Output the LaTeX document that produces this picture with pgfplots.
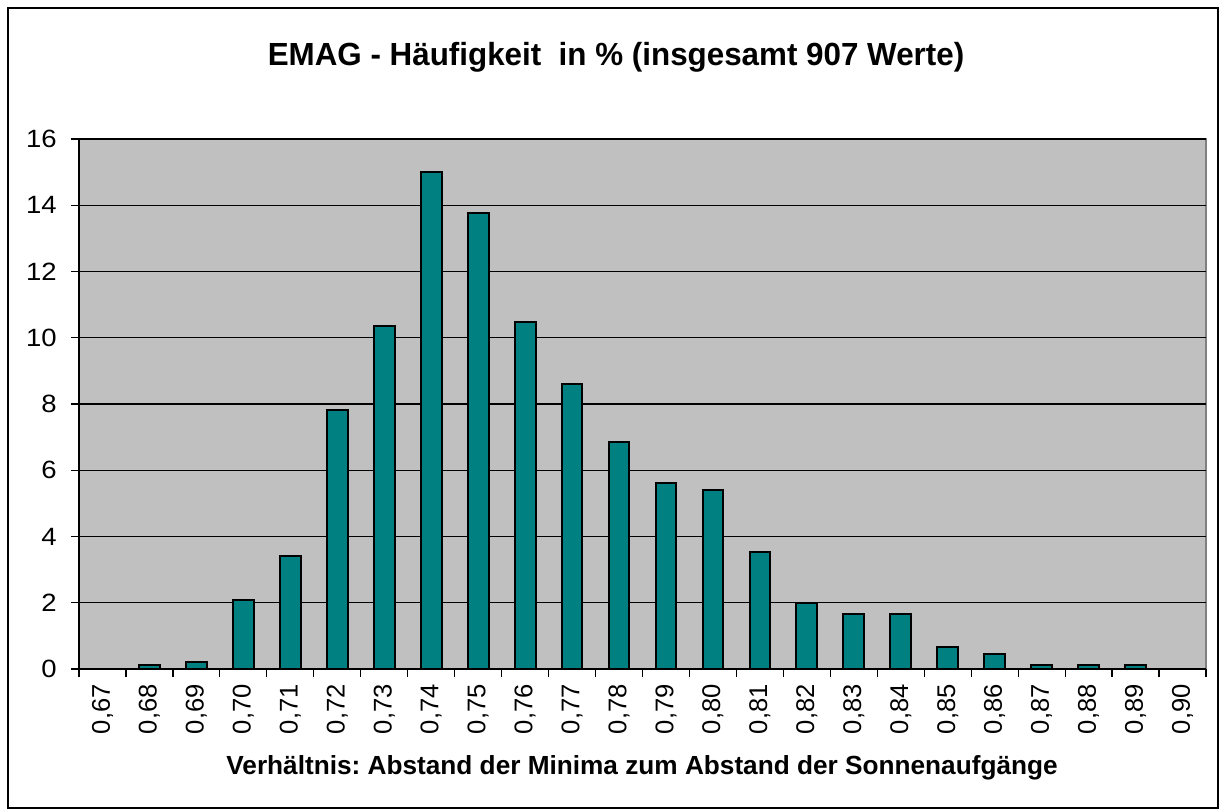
\documentclass[border=0pt]{standalone}
\usepackage{fontspec}
\setmainfont{Liberation Sans}
\newfontfamily\titlefont[FakeStretch=0.98]{Liberation Sans}
\newfontfamily\ytickfont[FakeStretch=1.1]{Liberation Sans}
\usepackage{pgfplots}
\pgfplotsset{compat=1.18}
\definecolor{plotbg}{HTML}{C0C0C0}
\definecolor{barteal}{HTML}{008080}
\definecolor{frameg}{HTML}{808080}
\frenchspacing
\begin{document}
\begin{tikzpicture}
\useasboundingbox (0,0) rectangle (609.5bp,404.5bp);
\draw[black, line width=1.25bp] (4bp,0.6bp) rectangle (608.9bp,400.5bp);
\begin{axis}[
  at={(39.5bp,70bp)}, anchor=south west,
  scale only axis, width=563.5bp, height=265bp,
  xmin=-0.5, xmax=23.5, ymin=0, ymax=16,
  axis x line=bottom, axis y line=left,
  axis line style={-, black, line width=0.6bp},
  axis background/.style={fill=plotbg, draw=frameg, line width=1bp},
  tick align=outside,
  major tick length=4bp, minor tick length=4bp,
  tick style={black, line width=0.6bp},
  xtick={0,...,23},
  major x tick style={draw=none},
  minor xtick={-0.5,0.5,...,23.5},
  xticklabels={{0,67},{0,68},{0,69},{0,70},{0,71},{0,72},{0,73},{0,74},{0,75},{0,76},{0,77},{0,78},{0,79},{0,80},{0,81},{0,82},{0,83},{0,84},{0,85},{0,86},{0,87},{0,88},{0,89},{0,90}},
  xticklabel style={yshift=-3.5bp, rotate=90, anchor=east, inner sep=0pt, font=\fontsize{12.8bp}{15bp}\selectfont},
  ytick={0,2,...,16},
  yticklabel style={anchor=east, inner sep=0pt, xshift=-7bp, font=\ytickfont\fontsize{12.5bp}{14bp}\selectfont},
  /pgf/number format/assume math mode=true,
  ymajorgrids, grid style={black, line width=0.6bp},
  title={EMAG - Häufigkeit\ \ in \% (insgesamt 907 Werte)},
  title style={at={(axis description cs:0.4765,1.116)}, anchor=base, inner sep=0pt, font=\titlefont\bfseries\fontsize{16bp}{18bp}\selectfont},
  xlabel={Verhältnis: Abstand der Minima zum Abstand der Sonnenaufgänge},
  xlabel style={at={(axis description cs:0.4996,-0.199)}, anchor=base, inner sep=0pt, font=\bfseries\fontsize{13.1bp}{15bp}\selectfont},
]
\addplot[ybar, bar width=10.4bp, fill=barteal, draw=black, line width=1bp] coordinates {
(1,0.11) (2,0.22) (3,2.09) (4,3.42) (5,7.83) (6,10.36) (7,14.99) (8,13.78) (9,10.47) (10,8.60) (11,6.84) (12,5.62) (13,5.40) (14,3.53) (15,1.98) (16,1.65) (17,1.65) (18,0.66) (19,0.44) (20,0.11) (21,0.11) (22,0.11)
};
\end{axis}
\end{tikzpicture}
\end{document}
